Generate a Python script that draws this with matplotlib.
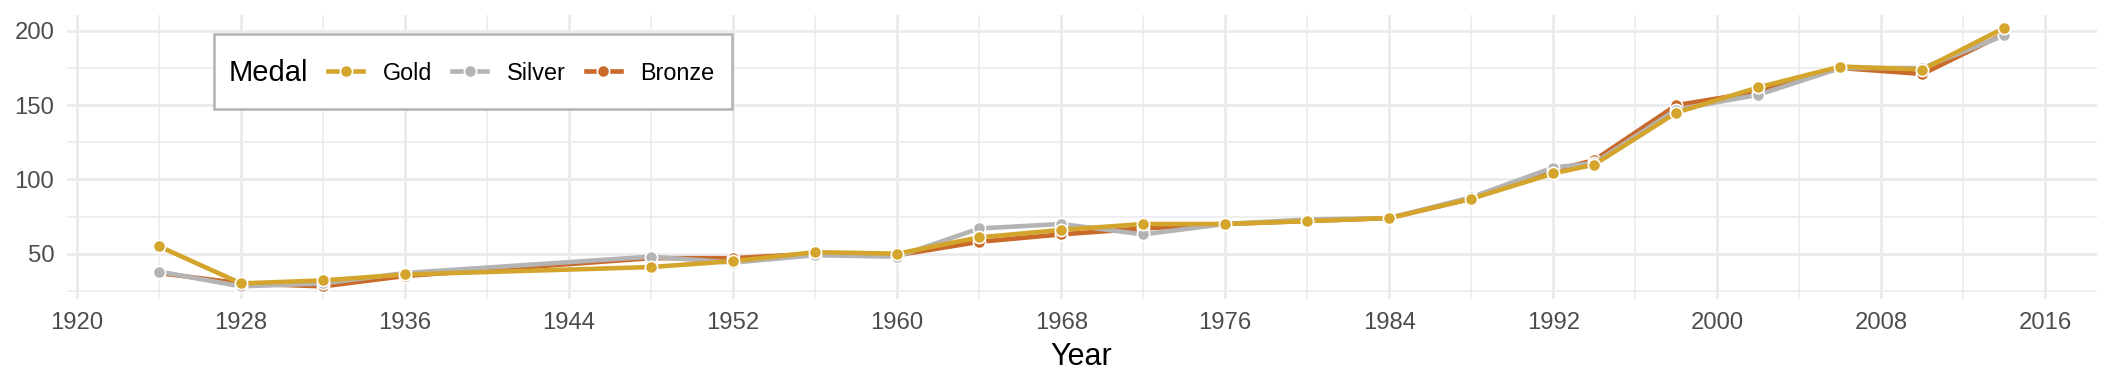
import matplotlib
matplotlib.use("Agg")
import matplotlib.pyplot as plt
from matplotlib.lines import Line2D
from matplotlib.patches import Rectangle
from matplotlib.ticker import MultipleLocator

plt.rcParams['font.family'] = ['Liberation Sans', 'DejaVu Sans']

years = [1924, 1928, 1932, 1936, 1948, 1952, 1956, 1960, 1964, 1968, 1972,
         1976, 1980, 1984, 1988, 1992, 1994, 1998, 2002, 2006, 2010, 2014]
gold = [55, 30, 32, 36, 41, 45, 51, 50, 61, 66, 70, 70, 72, 74, 87, 104, 110, 145, 162, 176, 174, 202]
silver = [38, 28, 30, 37, 48, 44, 49, 48, 67, 70, 63, 70, 73, 74, 88, 108, 111, 147, 157, 175, 175, 197]
bronze = [37, 30, 28, 35, 47, 47, 50, 49, 58, 63, 67, 70, 72, 74, 87, 106, 113, 150, 159, 175, 171, 198]

medals = ["Gold", "Silver", "Bronze"]
colors = {"Gold": "#D4A52C", "Silver": "#B4B4B4", "Bronze": "#C9692A"}
series = {"Gold": gold, "Silver": silver, "Bronze": bronze}

fig = plt.figure(figsize=(21.12, 3.84), dpi=100)
ax = fig.add_axes([66.7 / 2112, 1 - 299.3 / 384, (2096.7 - 66.7) / 2112, (299.3 - 15) / 384])

lw = 3.3
ms = 8.8
for m in ["Bronze", "Silver", "Gold"]:
    ax.plot(years, series[m], color=colors[m], lw=lw, marker='o', ms=ms,
            markerfacecolor=colors[m], markeredgecolor='white', markeredgewidth=1.2,
            solid_joinstyle='round', zorder=3)

# ggplot-like expansion
allv = gold + silver + bronze
lo, hi = min(allv), max(allv)
pad = 0.05 * (hi - lo)
ax.set_ylim(lo - pad, hi + pad)
xpad = 0.05 * (max(years) - min(years))
ax.set_xlim(min(years) - xpad, max(years) + xpad)

ax.xaxis.set_major_locator(MultipleLocator(8))
ax.xaxis.set_minor_locator(MultipleLocator(4))
ax.set_xticks(range(1920, 2017, 8))
ax.yaxis.set_major_locator(MultipleLocator(50))
ax.yaxis.set_minor_locator(MultipleLocator(25))

ax.grid(which='major', color='#EBEBEB', lw=2.0, zorder=0)
ax.grid(which='minor', color='#EBEBEB', lw=1.1, zorder=0)
ax.set_axisbelow(True)
for s in ax.spines.values():
    s.set_visible(False)
ax.tick_params(which='both', length=0)
ax.tick_params(axis='both', which='major', labelsize=17.2, labelcolor='#4D4D4D', pad=9)

ax.set_xlabel("Year", fontsize=22, color='black', labelpad=6)

# legend box
x0 = (214 - 66.7) / 2030.0
x1 = (732 - 66.7) / 2030.0
yt = 1 - (34 - 15) / 284.3
yb = 1 - (109 - 15) / 284.3
ax.add_patch(Rectangle((x0, yb), x1 - x0, yt - yb, transform=ax.transAxes,
                       facecolor='white', edgecolor='#B3B3B3', lw=1.8, zorder=5, clip_on=False))
ycen = 1 - (73 - 15) / 284.3
ax.text((229 - 66.7) / 2030.0, ycen, "Medal", transform=ax.transAxes, fontsize=21,
        va='center', ha='left', zorder=6)
handles = [Line2D([], [], color=colors[m], lw=lw, marker='o', ms=ms,
                  markerfacecolor=colors[m], markeredgecolor='white', markeredgewidth=1.2)
           for m in medals]
leg = ax.legend(handles, medals, loc='center left',
                bbox_to_anchor=((328 - 66.7) / 2030.0, ycen), ncol=3, frameon=False,
                fontsize=16.8, handlelength=1.5, handletextpad=0.85, columnspacing=0.85,
                borderpad=0, borderaxespad=0)
leg.set_zorder(7)

fig.savefig("out.png", dpi=100, facecolor='white')
